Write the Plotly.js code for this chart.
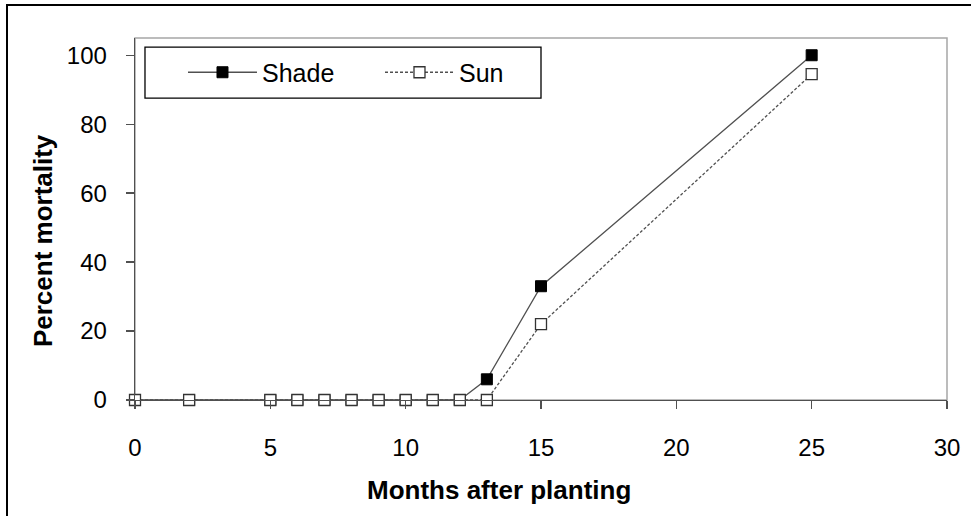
<!DOCTYPE html>
<html>
<head>
<meta charset="utf-8">
<script src="https://cdn.plot.ly/plotly-3.0.1.min.js"></script>
<style>
  html, body { margin: 0; padding: 0; background: #fff; }
  #wrap { position: relative; width: 971px; height: 516px; overflow: hidden; }
  #chart { width: 971px; height: 516px; }
  #frame { position: absolute; left: 6px; top: 4px; width: 980px; height: 530px;
           border-left: 2px solid #000; border-top: 2px solid #000; pointer-events: none; }
</style>
</head>
<body>
<div id="wrap">
  <div id="chart"></div>
  <div id="frame"></div>
</div>
<script>
// Data
const months = [0, 2, 5, 6, 7, 8, 9, 10, 11, 12, 13, 15, 25];
const shadeMortality = [0, 0, 0, 0, 0, 0, 0, 0, 0, 0, 6, 33, 100];
const sunMortality   = [0, 0, 0, 0, 0, 0, 0, 0, 0, 0, 0, 22, 94.5];
const seriesNames = ["Shade", "Sun"];
const xTicks = [0, 5, 10, 15, 20, 25, 30];
const yTicks = [0, 20, 40, 60, 80, 100];
const xTitle = "Months after planting";
const yTitle = "Percent mortality";

const FONT = "Liberation Sans, Arial, sans-serif";

const traces = [
  {
    x: months, y: shadeMortality, name: seriesNames[0],
    type: "scatter", mode: "lines+markers",
    line: { color: "#505050", width: 1.3 },
    marker: { symbol: "square", size: 11, color: "#000", line: { color: "#000", width: 1 } },
    cliponaxis: false
  },
  {
    x: months, y: sunMortality, name: seriesNames[1],
    type: "scatter", mode: "lines+markers",
    line: { color: "#505050", width: 1.3, dash: "3px,2px" },
    marker: { symbol: "square", size: 11, color: "#fff", line: { color: "#333", width: 1.3 } },
    cliponaxis: false
  }
];

const layout = {
  width: 971, height: 516,
  margin: { l: 135, r: 24, t: 38, b: 116, pad: 0 },
  paper_bgcolor: "#fff", plot_bgcolor: "#fff",
  font: { family: FONT, color: "#000", size: 24 },
  showlegend: true,
  legend: {
    orientation: "h", x: 0.0591, y: 0.9047, xanchor: "left", yanchor: "middle",
    borderwidth: 0, bgcolor: "rgba(0,0,0,0)",
    font: { family: FONT, size: 25, color: "#000" },
    itemwidth: 69, entrywidth: 113
  },
  xaxis: {
    range: [0, 30], tickvals: xTicks, ticktext: xTicks.map(String),
    showgrid: false, zeroline: false, showline: true, linecolor: "#505050", linewidth: 1.3,
    ticks: "outside", ticklen: 8, tickcolor: "#505050", tickwidth: 1.3,
    ticklabelstandoff: 18,
    tickfont: { family: FONT, size: 24, color: "#000" }
  },
  yaxis: {
    range: [0, 105], tickvals: yTicks, ticktext: yTicks.map(String),
    showgrid: false, zeroline: false, showline: true, linecolor: "#505050", linewidth: 1.3,
    ticks: "outside", ticklen: 8, tickcolor: "#505050", tickwidth: 1.3,
    ticklabelstandoff: 14,
    tickfont: { family: FONT, size: 24, color: "#000" }
  },
  annotations: [
    { text: xTitle, xref: "paper", yref: "paper", x: 0.4483, y: -0.2486,
      xanchor: "center", yanchor: "middle", showarrow: false,
      font: { family: FONT, size: 26, color: "#000", weight: "bold" } },
    { text: yTitle, xref: "paper", yref: "paper", x: -0.1133, y: 0.439,
      xanchor: "center", yanchor: "middle", showarrow: false, textangle: -90,
      font: { family: FONT, size: 26, color: "#000", weight: "bold" } }
  ],
  shapes: [
    { type: "rect", xref: "paper", yref: "paper", x0: 0, x1: 1, y0: 0, y1: 1,
      line: { color: "#a6a6a6", width: 1.5 }, layer: "below" },
    { type: "rect", xref: "paper", yref: "paper", x0: 0.0123, x1: 0.5, y0: 0.834, y1: 0.975,
      line: { color: "#000", width: 1.3 }, fillcolor: "#fff", layer: "above" }
  ]
};

Plotly.newPlot("chart", traces, layout, { displayModeBar: false, staticPlot: true });
</script>
</body>
</html>
